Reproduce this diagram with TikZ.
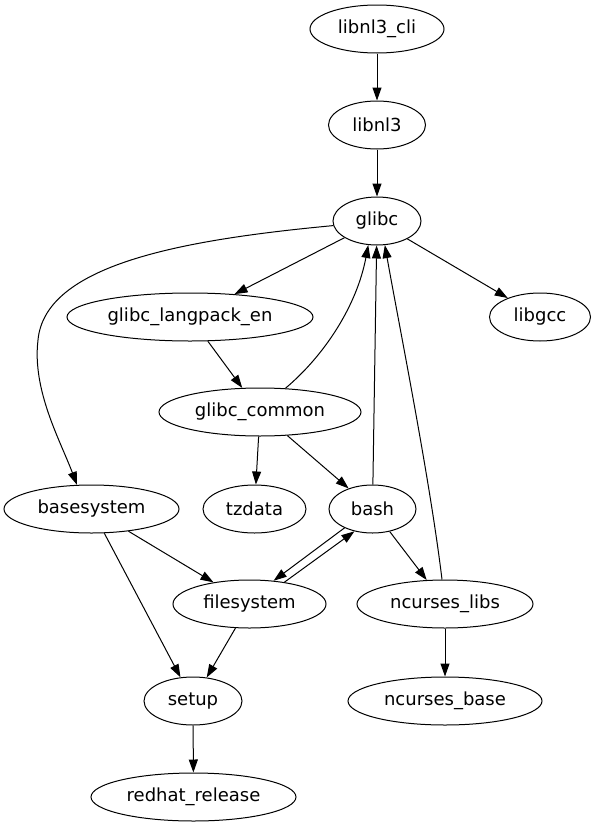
\documentclass[tikz,border=0pt]{standalone}
\usepackage{fontspec}
\setmainfont{DejaVu Sans}
\usetikzlibrary{arrows.meta,shapes.geometric}

\begin{document}
\begin{tikzpicture}[x=1pt, y=-1pt, font=\fontsize{18}{20}\selectfont,
  >={Triangle[length=13pt,width=9pt]},
  pkg/.style={draw, ellipse, line width=1pt, minimum height=48pt, inner sep=0pt},
  dep/.style={->, line width=1pt}]
  \useasboundingbox (0,0) rectangle (595,827);
  % packages, one row per rank
  \node[pkg, minimum width=134pt] (cli) at (377,29) {libnl3\_cli};
  \node[pkg, minimum width=97pt] (libnl) at (377,125) {libnl3};
  \node[pkg, minimum width=88pt] (glibc) at (377,221) {glibc};
  \node[pkg, minimum width=246pt] (langpack) at (190,317) {glibc\_langpack\_en};
  \node[pkg, minimum width=101pt] (libgcc) at (540,317) {libgcc};
  \node[pkg, minimum width=202pt] (common) at (260,412) {glibc\_common};
  \node[pkg, minimum width=175pt] (basesys) at (91.5,509) {basesystem};
  \node[pkg, minimum width=103pt] (tzdata) at (254.5,509) {tzdata};
  \node[pkg, minimum width=87pt] (bash) at (372.5,509) {bash};
  \node[pkg, minimum width=153pt] (fs) at (249.5,604) {filesystem};
  \node[pkg, minimum width=176pt] (nlibs) at (445,604) {ncurses\_libs};
  \node[pkg, minimum width=98pt] (setup) at (193,701) {setup};
  \node[pkg, minimum width=194pt] (nbase) at (445,701) {ncurses\_base};
  \node[pkg, minimum width=205pt] (redhat) at (193.5,797) {redhat\_release};
  % dependencies
  \draw[dep] (cli) -- (libnl);
  \draw[dep] (libnl) -- (glibc);
  \draw[dep] (glibc) -- (langpack);
  \draw[dep] (glibc) -- (libgcc);
  \draw[dep] (glibc.186) .. controls (180,240) and (45,265) .. (38,340)
    .. controls (32,390) and (60,440) .. (basesys.121);
  \draw[dep] (langpack) -- (common);
  \draw[dep] (common.43) .. controls (325,355) and (357,305) .. (glibc.250);
  \draw[dep] (common) -- (tzdata);
  \draw[dep] (common) -- (bash);
  \draw[dep] (bash) -- (glibc);
  \draw[dep] (nlibs.97) .. controls (430,480) and (400,330) .. (glibc.288);
  \draw[dep] (basesys) -- (fs);
  \draw[dep] (basesys) -- (setup);
  \draw[dep] (bash.214) -- (fs.44);
  \draw[dep] (fs.32) -- (bash.231);
  \draw[dep] (bash) -- (nlibs);
  \draw[dep] (fs) -- (setup);
  \draw[dep] (nlibs) -- (nbase);
  \draw[dep] (setup) -- (redhat);
\end{tikzpicture}
\end{document}
